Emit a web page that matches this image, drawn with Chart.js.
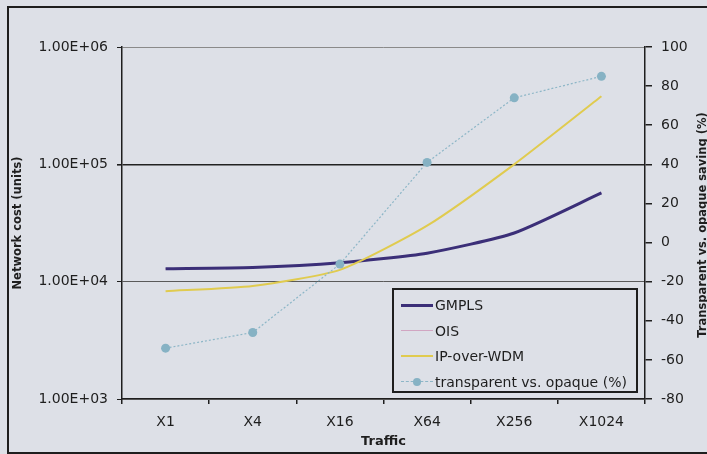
<!DOCTYPE html>
<html>
<head>
<meta charset="utf-8">
<script src="https://cdn.jsdelivr.net/npm/chart.js@4.4.1/dist/chart.umd.min.js"></script>
<style>
  html, body { margin: 0; padding: 0; background: #dde0e7; }
  #wrap { position: relative; width: 707px; height: 454px; overflow: hidden; background: #dde0e7; }
  #frame { position: absolute; left: 7px; top: 6px; width: 720px; height: 444px; border: 2px solid #1e1e1e; }
  #rightTitle {
    position: absolute; left: 702px; top: 225px; width: 300px; text-align: center;
    transform: translate(-50%, -50%) rotate(-90deg);
    font: bold 11.5px "DejaVu Sans", sans-serif; color: #1e1e1e; white-space: nowrap;
  }
  #legend {
    position: absolute; left: 392px; top: 288px; width: 242px; height: 101px;
    border: 2px solid #1e1e1e; font: 14px "DejaVu Sans", sans-serif; color: #1e1e1e;
  }
  #legend .row { position: absolute; left: 7px; height: 20px; line-height: 20px; white-space: nowrap; }
  #legend .sample { position: absolute; left: 0; top: 10px; width: 32px; }
  #legend .dot { position: absolute; left: 12px; top: -4px; width: 8px; height: 8px; border-radius: 50%; }
  #legend .txt { position: absolute; left: 34px; top: 0; }
</style>
</head>
<body>
<div id="wrap">
  <canvas id="costChart" width="707" height="454"></canvas>
  <div id="frame"></div>
  <div id="rightTitle">Transparent vs. opaque saving (%)</div>
  <div id="legend"></div>
</div>
<script>
'use strict';

var traffic = ['X1', 'X4', 'X16', 'X64', 'X256', 'X1024'];
var gmpls = [12900, 13200, 14500, 17500, 26000, 57000];
var ois = [12900, 13200, 14500, 17500, 26000, 57000];
var ipOverWdm = [8300, 9200, 12600, 30000, 100000, 380000];
var savingPct = [-54, -46, -11, 41, 74, 85];
var costTicks = [1000, 10000, 100000, 1000000];

var axisColor = '#1e1e1e';
var tickFont = { family: 'DejaVu Sans', size: 14 };

var formatExp = function (v) {
  var e = Math.round(Math.log10(v));
  return '1.00E+' + (e < 10 ? '0' : '') + e;
};

var datasets = [
  {
    label: 'GMPLS', data: gmpls, yAxisID: 'y', order: 2,
    borderColor: '#3b2f78', backgroundColor: '#3b2f78', borderWidth: 3,
    pointRadius: 0, tension: 0.2
  },
  {
    label: 'OIS', data: ois, yAxisID: 'y', order: 3,
    borderColor: '#d1a6c2', backgroundColor: '#d1a6c2', borderWidth: 1,
    pointRadius: 0, tension: 0.2
  },
  {
    label: 'IP-over-WDM', data: ipOverWdm, yAxisID: 'y', order: 1,
    borderColor: '#e0cb4f', backgroundColor: '#e0cb4f', borderWidth: 2,
    pointRadius: 0, tension: 0.2
  },
  {
    label: 'transparent vs. opaque (%)', data: savingPct, yAxisID: 'y2', order: 0,
    borderColor: '#8db6c7', backgroundColor: '#8db6c7', borderWidth: 1.2,
    borderDash: [2, 2], pointRadius: 4.5, pointBorderWidth: 0,
    pointBackgroundColor: '#86b2c4', tension: 0
  }
];

var chart = new Chart(document.getElementById('costChart').getContext('2d'), {
  type: 'line',
  data: { labels: traffic, datasets: datasets },
  options: {
    responsive: false,
    animation: false,
    layout: { padding: { top: 47, left: 0, right: 0, bottom: 0 } },
    plugins: { legend: { display: false }, tooltip: { enabled: false } },
    scales: {
      x: {
        type: 'category',
        offset: true,
        afterFit: function (s) { s.height = 55; },
        grid: { offset: true, drawOnChartArea: false, tickLength: 5, tickColor: axisColor, lineWidth: 1.5 },
        border: { color: axisColor, width: 1.5 },
        ticks: { color: '#1e1e1e', font: tickFont, padding: 10, maxRotation: 0 },
        title: {
          display: true, text: 'Traffic', color: '#1e1e1e',
          font: { family: 'DejaVu Sans', size: 13, weight: 'bold' },
          padding: { top: 0, bottom: 5 }
        }
      },
      y: {
        type: 'logarithmic',
        position: 'left',
        min: 1000,
        max: 1000000,
        afterFit: function (s) { s.width = 122; },
        afterBuildTicks: function (s) {
          s.ticks = costTicks.map(function (v) { return { value: v }; });
        },
        grid: {
          tickLength: 5,
          tickColor: axisColor,
          color: function (ctx) {
            var v = ctx.tick && ctx.tick.value;
            if (v === 100000) return '#222222';
            if (v === 10000) return '#5a5a5a';
            return '#8a8a8a';
          },
          lineWidth: function (ctx) {
            return ctx.tick && ctx.tick.value === 100000 ? 1.6 : 1;
          }
        },
        border: { color: axisColor, width: 1.5 },
        ticks: {
          color: '#1e1e1e', font: tickFont, padding: 9,
          autoSkip: false,
          callback: function (v) { return formatExp(v); }
        },
        title: {
          display: true, text: 'Network cost (units)', color: '#1e1e1e',
          font: { family: 'DejaVu Sans', size: 11.5, weight: 'bold' },
          padding: { top: 11, bottom: 0 }
        }
      },
      y2: {
        type: 'linear',
        position: 'right',
        min: -80,
        max: 100,
        afterFit: function (s) { s.width = 62; },
        grid: { drawOnChartArea: false, tickLength: 7, tickColor: axisColor, lineWidth: 1.5 },
        border: { color: axisColor, width: 1.5 },
        ticks: { stepSize: 20, color: '#1e1e1e', font: tickFont, padding: 9 }
      }
    }
  }
});

// html legend built from the chart's datasets, in the reference order
var legendEl = document.getElementById('legend');
var legendOrder = [0, 1, 2, 3];
legendOrder.forEach(function (idx, row) {
  var ds = chart.data.datasets[idx];
  var r = document.createElement('div');
  r.className = 'row';
  r.style.top = (5 + row * 25.5) + 'px';
  var sample = document.createElement('div');
  sample.className = 'sample';
  var lw = Math.max(1, Math.round(ds.borderWidth));
  sample.style.borderTop = lw + 'px ' + (ds.borderDash ? 'dashed ' : 'solid ') + ds.borderColor;
  sample.style.top = (10 - lw / 2) + 'px';
  if (ds.pointRadius) {
    var dot = document.createElement('div');
    dot.className = 'dot';
    dot.style.background = ds.pointBackgroundColor;
    sample.appendChild(dot);
  }
  var txt = document.createElement('span');
  txt.className = 'txt';
  txt.textContent = ds.label;
  r.appendChild(sample);
  r.appendChild(txt);
  legendEl.appendChild(r);
});
</script>
</body>
</html>
